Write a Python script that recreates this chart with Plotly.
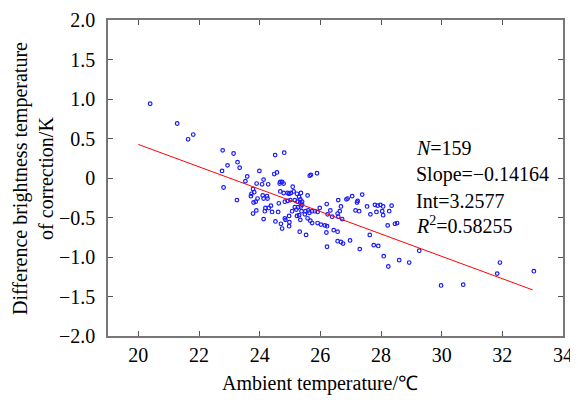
import plotly.graph_objects as go

# Ambient temperature (deg C) and difference brightness temperature (K)
amb_temp = [
    20.39, 21.28, 21.81, 21.64, 22.78, 23.14, 23.27, 22.94, 23.34, 22.76,
    22.81, 24.51, 24.81, 23.99, 24.48, 24.57, 23.59, 23.53, 24.13, 23.90,
    24.08, 24.28, 24.68, 24.74, 24.66, 24.79, 25.65, 25.69, 25.89, 25.09,
    25.12, 23.78, 23.82, 23.73, 23.71, 23.25, 24.10, 24.13, 24.24, 24.26,
    23.93, 23.80, 23.87, 24.37, 24.30, 24.19, 24.17, 24.63, 24.83, 24.92,
    25.01, 25.16, 25.25, 24.97, 25.03, 24.92, 24.79, 24.68, 25.23, 25.36,
    25.30, 25.34, 25.40, 25.34, 25.40, 25.36, 25.58, 25.16, 25.27, 25.07,
    25.21, 25.38, 25.49, 25.30, 25.23, 25.51, 25.60, 25.64, 25.73, 25.82,
    25.91, 25.58, 25.67, 25.73, 25.91, 26.02, 26.15, 24.61, 24.83, 24.85,
    24.97, 24.52, 24.70, 24.74, 24.97, 24.13, 23.78, 24.41, 23.89, 25.32,
    25.53, 24.98, 25.34, 25.98, 26.21, 26.33, 26.24, 26.39, 26.59, 26.86,
    26.90, 27.05, 27.38, 26.68, 26.57, 26.64, 26.72, 26.59, 27.21, 27.23,
    27.16, 27.28, 27.54, 27.80, 27.89, 27.98, 28.07, 28.35, 28.27, 27.85,
    28.04, 27.65, 28.07, 26.22, 26.44, 26.57, 26.20, 26.57, 26.68, 26.75,
    26.98, 26.22, 27.30, 27.63, 27.76, 27.91, 28.22, 28.46, 28.53, 28.09,
    28.60, 28.24, 28.93, 29.26, 29.98, 30.71, 31.92, 31.83, 33.04,
]
diff_bt = [
    0.94, 0.69, 0.55, 0.49, 0.35, 0.31, 0.20, 0.16, 0.13, 0.09,
    -0.12, 0.29, 0.32, 0.09, 0.05, 0.07, 0.02, -0.04, -0.02, -0.07,
    -0.08, -0.08, -0.05, -0.05, -0.07, -0.07, 0.03, 0.04, 0.06, -0.11,
    -0.17, -0.14, -0.18, -0.20, -0.23, -0.28, -0.22, -0.26, -0.23, -0.26,
    -0.26, -0.31, -0.30, -0.35, -0.38, -0.38, -0.42, -0.32, -0.30, -0.29,
    -0.28, -0.28, -0.30, -0.20, -0.19, -0.19, -0.19, -0.17, -0.20, -0.19,
    -0.24, -0.27, -0.30, -0.31, -0.34, -0.36, -0.22, -0.37, -0.37, -0.42,
    -0.40, -0.42, -0.46, -0.47, -0.48, -0.42, -0.41, -0.44, -0.42, -0.42,
    -0.43, -0.51, -0.54, -0.57, -0.57, -0.59, -0.60, -0.43, -0.51, -0.53,
    -0.48, -0.55, -0.58, -0.64, -0.61, -0.52, -0.45, -0.43, -0.41, -0.68,
    -0.72, -0.56, -0.53, -0.38, -0.33, -0.41, -0.46, -0.49, -0.28, -0.27,
    -0.26, -0.23, -0.21, -0.36, -0.45, -0.42, -0.52, -0.49, -0.31, -0.29,
    -0.41, -0.42, -0.36, -0.34, -0.35, -0.34, -0.36, -0.35, -0.42, -0.43,
    -0.42, -0.46, -0.47, -0.61, -0.66, -0.68, -0.69, -0.80, -0.81, -0.83,
    -0.79, -0.87, -0.90, -0.72, -0.85, -0.86, -0.60, -0.58, -0.57, -0.99,
    -1.04, -1.12, -1.07, -0.92, -1.36, -1.35, -1.07, -1.21, -1.18,
]

# Regression results shown on the chart
n_points = 159
slope = -0.14164
intercept = 3.2577
r_squared = 0.58255
fit_x = [20, 33]
fit_y = [intercept + slope * v for v in fit_x]

x_ticks = [20, 22, 24, 26, 28, 30, 32, 34]
y_ticks = [-2.0, -1.5, -1.0, -0.5, 0, 0.5, 1.0, 1.5, 2.0]
y_tick_text = ["\u22122.0", "\u22121.5", "\u22121.0", "\u22120.5", "0", "0.5", "1.0", "1.5", "2.0"]

FONT = "Liberation Serif, Times New Roman, serif"

fig = go.Figure()
fig.add_trace(go.Scatter(
    x=amb_temp, y=diff_bt, mode="markers",
    marker=dict(symbol="circle-open", size=3.6, color="#1a1aff", line=dict(width=1.2)),
    showlegend=False, hoverinfo="x+y",
))
fig.add_trace(go.Scatter(
    x=fit_x, y=fit_y, mode="lines",
    line=dict(color="#ff0000", width=1), showlegend=False,
))

axis_common = dict(
    showline=True, linecolor="#777777", linewidth=1.5, mirror="ticks",
    ticks="inside", ticklen=5, tickcolor="#555555", tickwidth=1,
    showgrid=False, zeroline=False, automargin=False,
    tickfont=dict(family=FONT, size=20, color="black"),
)
fig.update_xaxes(range=[19, 34], tickvals=x_ticks, **axis_common)
fig.update_yaxes(range=[-2, 2], tickvals=y_ticks, ticktext=y_tick_text,
                 ticklabelstandoff=7, **axis_common)

stats_lines = [
    f"<i>N</i>={n_points}",
    f"Slope=\u2212{abs(slope):.5f}",
    f"Int={intercept}",
    f"<i>R</i><sup>2</sup>={r_squared}",
]
stats_y = [0.386, 0.044, -0.285, -0.601]
annotations = []
for txt, yy in zip(stats_lines, stats_y):
    annotations.append(dict(
        x=29.1, y=yy, xref="x", yref="y", text=txt, showarrow=False,
        xanchor="left", yanchor="middle",
        font=dict(family=FONT, size=20, color="black"),
    ))
annotations.append(dict(
    x=0.467, y=-0.149, xref="paper", yref="paper",
    text="Ambient temperature/\u2103", showarrow=False,
    xanchor="center", yanchor="middle",
    font=dict(family=FONT, size=20, color="black"),
))
annotations.append(dict(
    x=-0.165, y=0.5, xref="paper", yref="paper",
    text="Difference brightness temperature<br>of correction/K", showarrow=False,
    textangle=-90, xanchor="center", yanchor="middle",
    font=dict(family=FONT, size=20, color="black"),
))

# page body has an 8px margin, so the figure is sized to fit the 578x400 window
fig.update_layout(
    width=570, height=392,
    margin=dict(l=100, r=15, t=12, b=64, autoexpand=False),
    plot_bgcolor="white", paper_bgcolor="white",
    annotations=annotations,
)

fig.write_html("out.html")
